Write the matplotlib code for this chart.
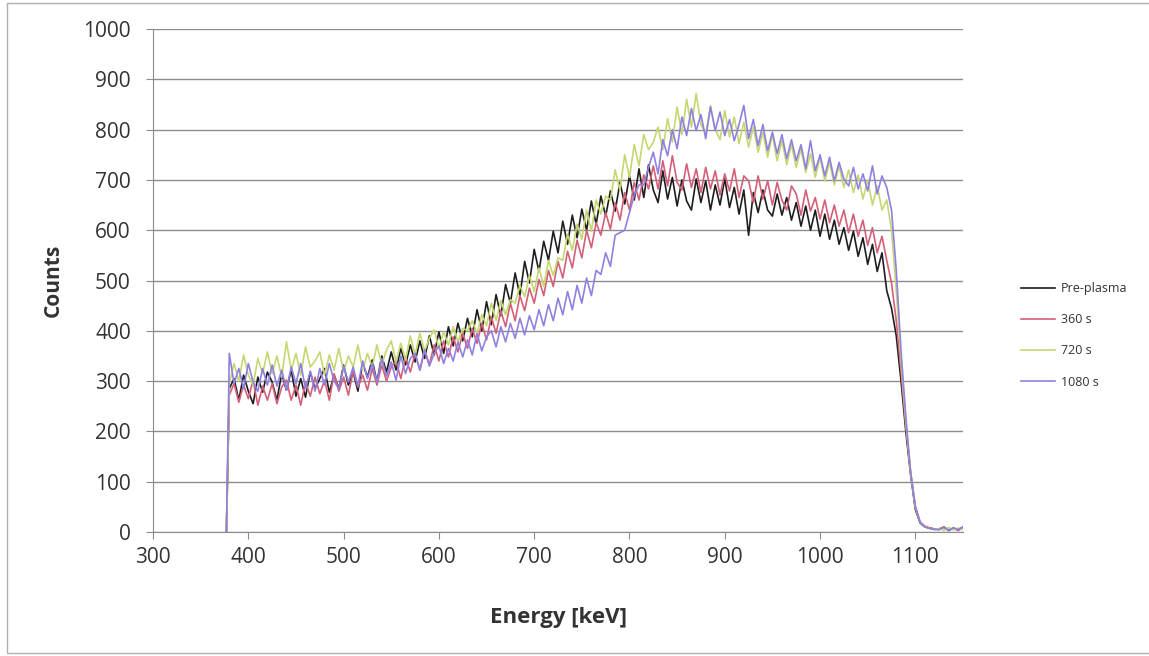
import numpy as np
import matplotlib.pyplot as plt
from matplotlib.patches import Rectangle

# channel energies (keV): first point is the edge at 377, then every 5 keV
energy = np.concatenate(([377], np.arange(380, 1151, 5)))

pre_plasma = [
    0, 285, 305, 262, 312, 280, 255, 308, 278, 318,
    298, 262, 315, 282, 322, 270, 305, 268, 318, 285,
    305, 325, 278, 312, 285, 332, 292, 318, 280, 335,
    308, 342, 298, 350, 318, 358, 322, 365, 332, 372,
    338, 380, 345, 390, 352, 398, 355, 408, 370, 415,
    380, 425, 388, 442, 400, 458, 412, 472, 430, 492,
    455, 515, 470, 538, 495, 562, 518, 578, 540, 598,
    555, 618, 572, 630, 585, 642, 600, 658, 612, 668,
    628, 678, 638, 695, 652, 708, 660, 722, 665, 730,
    680, 655, 718, 662, 705, 648, 700, 658, 640, 702,
    655, 698, 640, 690, 650, 702, 645, 685, 632, 680,
    590, 675, 635, 680, 640, 628, 672, 630, 665, 620,
    655, 608, 648, 600, 640, 588, 632, 582, 620, 572,
    605, 560, 598, 548, 585, 532, 572, 518, 555, 480,
    445, 390, 300, 200, 115, 45, 18, 10, 8, 6,
    5, 10, 3, 8, 4, 10,
]

s360 = [
    0, 272, 295, 258, 292, 265, 302, 252, 290, 262,
    295, 255, 288, 302, 262, 292, 252, 298, 270, 308,
    275, 302, 262, 315, 280, 308, 272, 320, 288, 312,
    282, 325, 292, 332, 300, 328, 340, 305, 348, 318,
    355, 322, 362, 332, 372, 340, 380, 348, 388, 358,
    395, 365, 405, 375, 415, 382, 428, 395, 440, 408,
    455, 420, 470, 440, 485, 455, 502, 470, 520, 488,
    538, 505, 558, 525, 580, 545, 600, 565, 615, 590,
    635, 602, 655, 620, 675, 640, 695, 660, 710, 682,
    728, 682, 738, 688, 748, 695, 680, 732, 685, 722,
    675, 725, 682, 718, 670, 712, 678, 722, 665, 708,
    698, 655, 708, 662, 698, 650, 695, 660, 640, 688,
    672, 630, 680, 638, 665, 622, 660, 615, 650, 608,
    640, 595, 632, 588, 620, 570, 605, 555, 588, 540,
    495, 420, 320, 210, 120, 48, 20, 12, 8, 6,
    6, 10, 4, 8, 3, 9,
]

s720 = [
    0, 295, 335, 300, 352, 312, 292, 345, 315, 358,
    315, 350, 308, 378, 322, 355, 312, 368, 328, 340,
    358, 312, 352, 322, 365, 318, 350, 328, 372, 322,
    355, 328, 372, 332, 362, 380, 338, 375, 342, 390,
    352, 395, 360, 385, 402, 365, 398, 372, 408, 378,
    405, 400, 420, 395, 432, 410, 455, 420, 460, 432,
    462, 455, 490, 468, 510, 478, 525, 488, 540, 510,
    545, 540, 592, 560, 612, 582, 640, 598, 660, 632,
    668, 660, 720, 680, 750, 705, 770, 728, 790, 760,
    775, 805, 760, 822, 775, 845, 790, 860, 805, 872,
    810, 792, 848, 800, 780, 838, 785, 825, 772, 815,
    765, 805, 755, 795, 745, 790, 738, 778, 730, 770,
    725, 762, 715, 752, 705, 745, 698, 735, 690, 728,
    685, 720, 675, 710, 662, 700, 650, 688, 640, 660,
    600, 480, 340, 220, 120, 50, 20, 10, 7, 5,
    7, 3, 9, 4, 8, 5,
]

s1080 = [
    0, 355, 295, 325, 285, 335, 298, 280, 325, 292,
    332, 290, 322, 282, 328, 295, 335, 285, 320, 280,
    325, 292, 335, 300, 285, 330, 298, 328, 290, 340,
    305, 335, 298, 345, 310, 338, 302, 350, 315, 345,
    355, 322, 362, 330, 355, 370, 335, 365, 340, 378,
    348, 382, 352, 395, 360, 388, 400, 368, 408, 378,
    415, 385, 425, 392, 430, 402, 442, 410, 452, 420,
    465, 432, 478, 442, 490, 455, 505, 470, 520, 512,
    555, 528, 590, 595, 600, 635, 670, 690, 690, 725,
    755, 712, 780, 748, 800, 762, 825, 788, 842, 798,
    830, 782, 845, 798, 835, 788, 820, 778, 810, 848,
    782, 820, 768, 810, 758, 795, 752, 790, 742, 780,
    738, 770, 722, 778, 718, 750, 708, 745, 698, 735,
    702, 688, 725, 682, 712, 678, 728, 672, 708, 685,
    640, 520, 360, 230, 120, 52, 20, 10, 7, 5,
    5, 9, 4, 8, 5, 10,
]

labels = ["Pre-plasma", "360 s", "720 s", "1080 s"]
colors = ["#1e1e1e", "#d45f78", "#c4d870", "#8f80e2"]
series = [pre_plasma, s360, s720, s1080]

plt.rcParams['font.family'] = ['Open Sans', 'DejaVu Sans']

fig = plt.figure(figsize=(11.49, 6.56), dpi=100)
ax = fig.add_axes([0.1332, 0.189, 0.7049, 0.7668])

for y, lab, c in zip(series, labels, colors):
    ax.plot(energy, y, color=c, linewidth=1.2, label=lab)

ax.set_xlim(300, 1150)
ax.set_ylim(0, 1000)
ax.set_xticks(range(300, 1101, 100))
ax.set_yticks(range(0, 1001, 100))
ax.yaxis.grid(True, color='#8c8c8c', linewidth=1.0)
ax.set_axisbelow(True)
for s in ['top', 'right']:
    ax.spines[s].set_visible(False)
for s in ['left', 'bottom']:
    ax.spines[s].set_color('#8c8c8c')
ax.tick_params(axis='both', colors='#8c8c8c', labelcolor='#333333',
               labelsize=15, length=5)
ax.tick_params(axis='y', pad=11)
ax.tick_params(axis='x', pad=6)

ax.set_xlabel("Energy [keV]", fontsize=16, fontweight='bold', color='#333333', labelpad=28)
ax.set_ylabel("Counts", fontsize=15, fontweight='bold', color='#333333', labelpad=14)

fig.legend(loc='upper left', bbox_to_anchor=(1010 / 1149, 1 - 271 / 656),
           frameon=False, fontsize=9, handlelength=2.7, handletextpad=0.5,
           labelspacing=1.45, labelcolor='#333333')

fig.patches.append(Rectangle((7 / 1149, 3 / 656), 1.2, 650 / 656,
                             transform=fig.transFigure, fill=False,
                             edgecolor='#b0b0b0', linewidth=1.0))

fig.savefig("out.png", dpi=100)
